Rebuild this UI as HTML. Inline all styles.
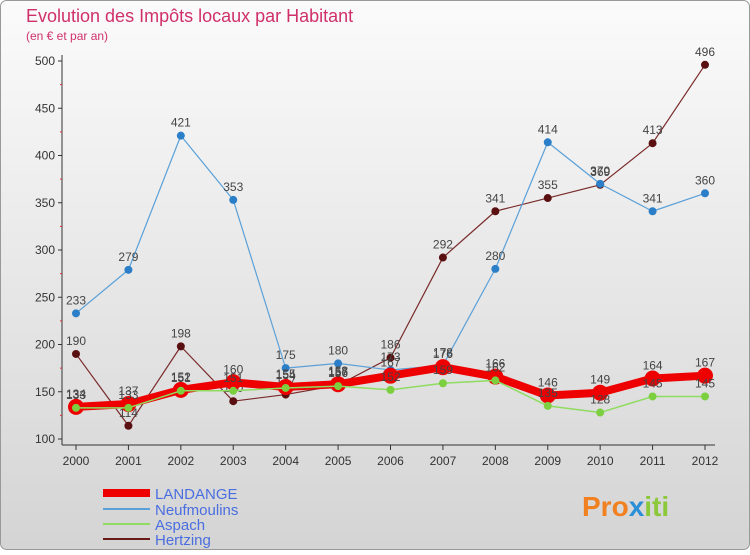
<!DOCTYPE html>
<html><head><meta charset="utf-8"><style>
html,body{margin:0;padding:0;}
body{width:750px;height:550px;overflow:hidden;font-family:"Liberation Sans",sans-serif;}
</style></head><body>
<svg id="c" width="750" height="550" xmlns="http://www.w3.org/2000/svg">
<defs><linearGradient id="bg" x1="0" y1="0" x2="0" y2="1"><stop offset="0" stop-color="#fbfbfb"/><stop offset="1" stop-color="#d4d4d4"/></linearGradient></defs>
<rect x="0.5" y="0.5" width="749" height="549" rx="6" fill="url(#bg)" stroke="#999"/>
<text x="26" y="22" font-size="18" fill="#d0306a">Evolution des Impôts locaux par Habitant</text>
<text x="26" y="40" font-size="12" fill="#d0306a">(en € et par an)</text>
<g id="axes"></g><g id="series"></g>
<g>
<line x1="103" y1="493" x2="150" y2="493" stroke="#e00" stroke-width="8"/>
<text x="155" y="499" font-size="15" fill="#4a6ee0">LANDANGE</text>
<line x1="103" y1="509" x2="150" y2="509" stroke="#5aa0d8" stroke-width="2"/>
<text x="155" y="515" font-size="15" fill="#4a6ee0">Neufmoulins</text>
<line x1="103" y1="524" x2="150" y2="524" stroke="#8fdc60" stroke-width="2"/>
<text x="155" y="530" font-size="15" fill="#4a6ee0">Aspach</text>
<line x1="103" y1="539" x2="150" y2="539" stroke="#6b1a1a" stroke-width="2"/>
<text x="155" y="545" font-size="15" fill="#4a6ee0">Hertzing</text>
</g>
<text x="582" y="516" font-size="28" font-weight="bold" fill="#f08020">Pro<tspan fill="#2b8fd8">x</tspan><tspan fill="#8bc83a">iti</tspan></text>
</svg>
<script>
const years=[2000,2001,2002,2003,2004,2005,2006,2007,2008,2009,2010,2011,2012];
const yTicks=[100,150,200,250,300,350,400,450,500];
const landange=[134,137,152,160,155,158,167,176,166,146,149,164,167];
const neufmoulins=[233,279,421,353,175,180,173,178,280,414,370,341,360];
const aspach=[133,133,151,151,154,156,152,159,162,135,128,145,145];
const hertzing=[190,114,198,140,147,157,186,292,341,355,369,413,496];
const NS="http://www.w3.org/2000/svg";
const x=i=>76+i*(705-76)/(years.length-1);
const y=v=>439-(v-100)*(439-61)/400;
function mk(t,a,p){const e=document.createElementNS(NS,t);for(const k in a)e.setAttribute(k,a[k]);p.appendChild(e);return e;}
const ax=document.getElementById('axes');
const yl=mk('line',{x1:62,y1:55,x2:62,y2:445,stroke:'#333'},ax);


yTicks.forEach(v=>{
 mk('line',{x1:58,y1:y(v),x2:62,y2:y(v),stroke:'#333'},ax);
 const t=mk('text',{x:55,y:y(v)+4,'font-size':12,'text-anchor':'end',fill:'#333'},ax);t.textContent=v;
 
 
 if(v<500)mk('line',{x1:60,y1:y(v+25),x2:62,y2:y(v+25),stroke:'#e03030'},ax);
});
const xl=mk('line',{x1:62,y1:445,x2:715,y2:445,stroke:'#333'},ax);


years.forEach((yr,i)=>{
 mk('line',{x1:x(i),y1:445,x2:x(i),y2:450,stroke:'#333'},ax);
 const t=mk('text',{x:x(i),y:465,'font-size':12,'text-anchor':'middle',fill:'#333'},ax);t.textContent=yr;
 
 
});
const sg=document.getElementById('series');
function series(data,name,color,w,r,dot){
 const g=mk('g',{},sg);
 
 
 const pl=mk('polyline',{points:data.map((v,i)=>x(i)+','+y(v)).join(' '),fill:'none',stroke:color,'stroke-width':w,'stroke-linejoin':'round'},g);
 
 
 data.forEach((v,i)=>{
  const c=mk('circle',{cx:x(i),cy:y(v),r:r,fill:dot,stroke:color==='#e00'?'#e00':'none','stroke-width':0},g);
  
  
  const t=mk('text',{x:x(i),y:y(v)-9,'font-size':12,'text-anchor':'middle',fill:'#444'},g);t.textContent=v;
  
  
 });
}
series(hertzing,'hertzing','#7a2a2a',1.2,4,'#5a1010');
series(neufmoulins,'neufmoulins','#5aa0d8',1.2,4,'#2b7fc8');
series(landange,'landange','#e00',8,8,'#e00');
series(aspach,'aspach','#8fdc60',1.5,4,'#7cd040');
</script>
</body></html>
